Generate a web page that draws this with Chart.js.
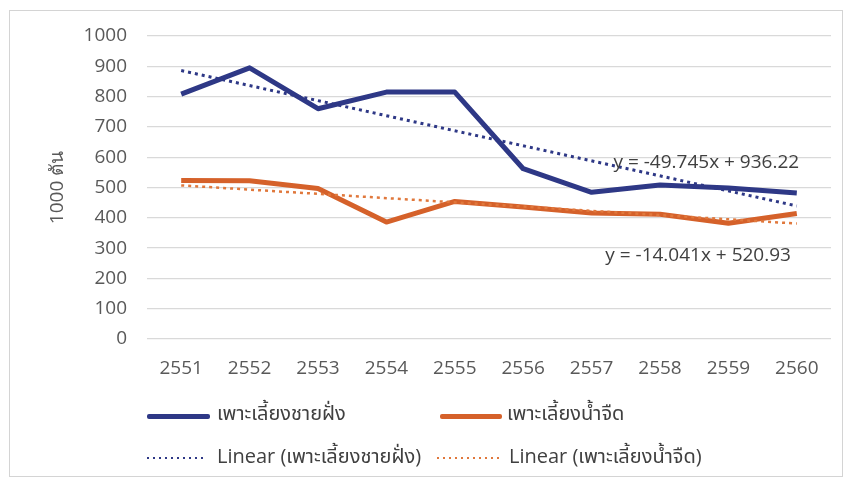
<!DOCTYPE html>
<html lang="th">
<head>
  <meta charset="UTF-8">
  <title>เพาะเลี้ยงชายฝั่ง / เพาะเลี้ยงน้ำจืด</title>
  <script src="https://cdn.jsdelivr.net/npm/chart.js"></script>
  <style>
    html, body { margin: 0; padding: 0; background: #fff; }
    body { width: 846px; height: 485px; position: relative; overflow: hidden;
           font-family: "Open Sans", "Noto Sans", "Noto Sans Thai", sans-serif; }
    .frame { position: absolute; left: 9px; top: 10px; width: 834px; height: 467px;
             border: 1px solid #d4d4d4; box-sizing: border-box; }
    #wrap { position: absolute; left: 0; top: 0; width: 846px; height: 485px; }
    .leg { position: absolute; font-size: 20px; color: #404040; line-height: 26px; white-space: nowrap; }
    .solid { position: absolute; height: 5px; border-radius: 2px; }
    .dots { position: absolute; height: 2px;
            background: repeating-linear-gradient(90deg, var(--c) 0 2px, transparent 2px 6px); }
  </style>
</head>
<body>
<div class="frame"></div>
<div id="wrap"><canvas id="fishChart" width="846" height="485"></canvas></div>

<!-- Legend -->
<div class="solid" style="left:147px; top:414px; width:63px; background:#2e3886;"></div>
<div class="leg" style="left:217px; top:400px;">เพาะเลี้ยงชายฝั่ง</div>
<div class="solid" style="left:440px; top:414px; width:62px; background:#d5612a;"></div>
<div class="leg" style="left:507px; top:400px;">เพาะเลี้ยงน้ำจืด</div>
<div class="dots" style="left:147px; top:457px; width:58px; --c:#2e3886;"></div>
<div class="leg" style="left:217px; top:443px;">Linear (เพาะเลี้ยงชายฝั่ง)</div>
<div class="dots" style="left:437px; top:457px; width:64px; --c:#e0783c;"></div>
<div class="leg" style="left:509px; top:443px;">Linear (เพาะเลี้ยงน้ำจืด)</div>

<script>
  const years = ['2551', '2552', '2553', '2554', '2555', '2556', '2557', '2558', '2559', '2560'];
  const coastal = [808, 895, 760, 815, 815, 562, 484, 508, 498, 482];
  const freshwater = [523, 522, 497, 386, 454, 436, 416, 412, 382, 414];
  // trend lines, read at the first and last year
  const coastalTrend = [886, null, null, null, null, null, null, null, null, 439];
  const freshTrend = [507, null, null, null, null, null, null, null, null, 381];
  const coastalEq = 'y = -49.745x + 936.22';
  const freshEq = 'y = -14.041x + 520.93';

  const tickFont = { family: '"Open Sans", "Noto Sans", sans-serif', size: 19 };

  const eqLabels = {
    id: 'eqLabels',
    afterDatasetsDraw(chart) {
      const { ctx, scales: { x, y } } = chart;
      ctx.save();
      ctx.font = '19px "Open Sans", "Noto Sans", sans-serif';
      ctx.fillStyle = '#404040';
      ctx.textBaseline = 'middle';
      ctx.fillText(coastalEq, x.getPixelForValue(6.32), y.getPixelForValue(582));
      ctx.fillText(freshEq, x.getPixelForValue(6.2), y.getPixelForValue(276));
      ctx.restore();
    }
  };

  new Chart(document.getElementById('fishChart').getContext('2d'), {
    type: 'line',
    data: {
      labels: years,
      datasets: [
        { label: 'เพาะเลี้ยงชายฝั่ง', data: coastal, borderColor: '#2e3886', borderWidth: 5,
          pointRadius: 0, tension: 0, borderJoinStyle: 'round', order: 2 },
        { label: 'เพาะเลี้ยงน้ำจืด', data: freshwater, borderColor: '#d5612a', borderWidth: 5,
          pointRadius: 0, tension: 0, borderJoinStyle: 'round', order: 2 },
        { label: 'Linear (เพาะเลี้ยงชายฝั่ง)', data: coastalTrend, borderColor: '#2e3886', borderWidth: 3,
          borderDash: [3, 4], pointRadius: 0, spanGaps: true, order: 1 },
        { label: 'Linear (เพาะเลี้ยงน้ำจืด)', data: freshTrend, borderColor: '#e0783c', borderWidth: 2.5,
          borderDash: [3, 4], pointRadius: 0, spanGaps: true, order: 1 }
      ]
    },
    options: {
      responsive: false,
      animation: false,
      layout: { padding: { left: 0, right: 15, top: 36, bottom: 96 } },
      plugins: { legend: { display: false }, tooltip: { enabled: false } },
      scales: {
        x: {
          offset: true,
          grid: { display: false },
          border: { display: false },
          ticks: { color: '#595959', font: tickFont, padding: 10, maxRotation: 0 },
          afterFit(s) { s.height = 50; }
        },
        y: {
          min: 0, max: 1000,
          grid: { color: '#d9d9d9', lineWidth: 1.3, drawTicks: false },
          border: { display: false },
          ticks: { stepSize: 100, color: '#595959', font: tickFont, padding: 20,
                   callback: v => String(v) },
          title: { display: true, text: '1000 ตัน', color: '#595959', font: tickFont,
                   padding: { top: 46, bottom: 0 } },
          afterFit(s) { s.width = 147; }
        }
      }
    },
    plugins: [eqLabels]
  });
</script>
</body>
</html>
